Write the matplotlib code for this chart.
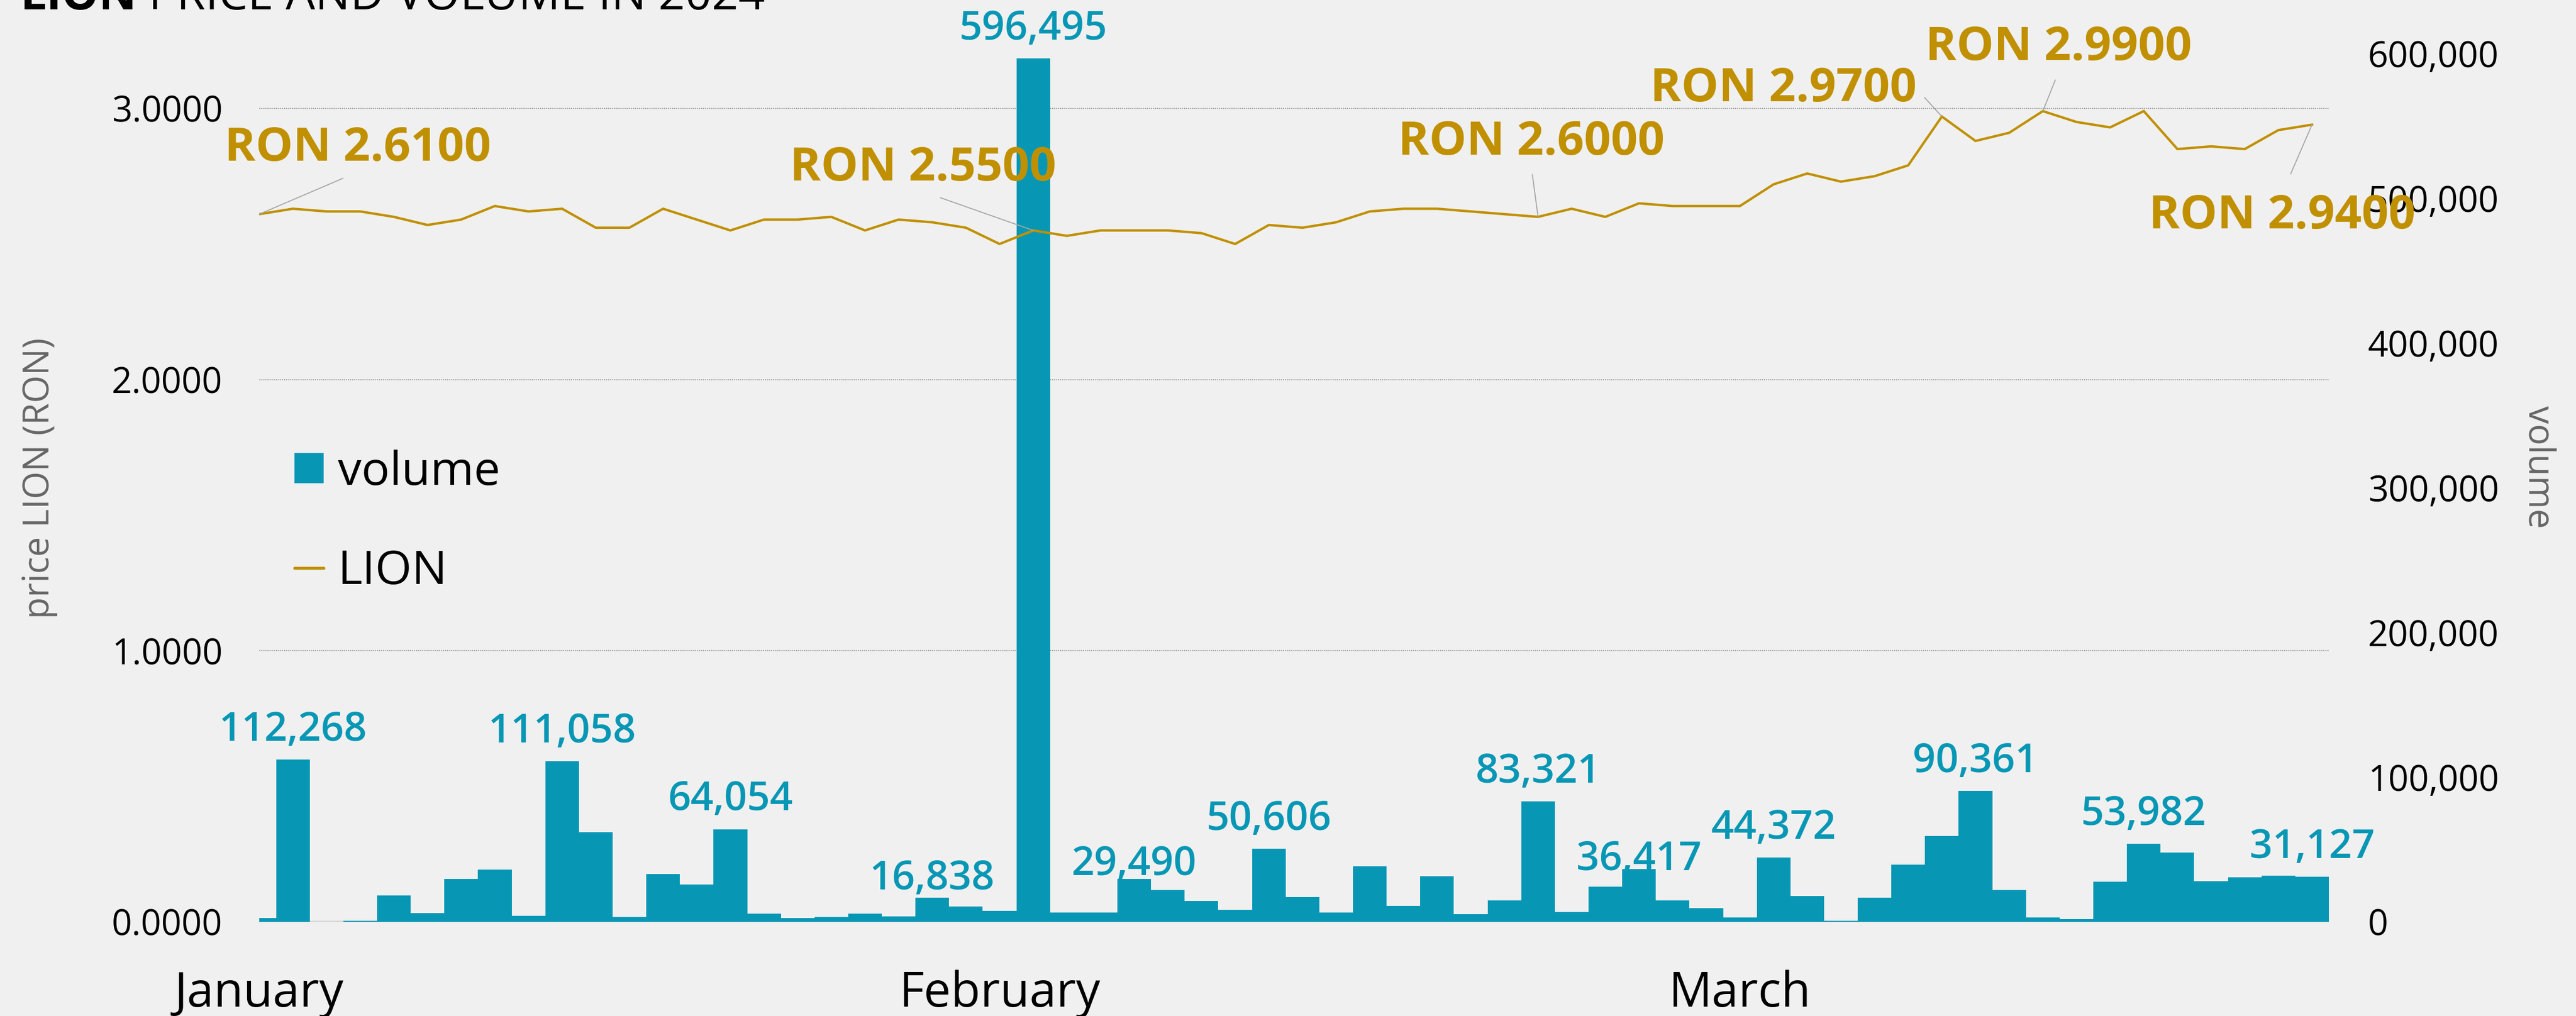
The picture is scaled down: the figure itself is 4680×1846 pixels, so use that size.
import numpy as np
import matplotlib
matplotlib.use("Agg")
import matplotlib.pyplot as plt
from matplotlib.patches import Patch
from matplotlib.lines import Line2D
from matplotlib.transforms import blended_transform_factory
from matplotlib.ticker import FuncFormatter, FixedLocator

# ---------------- data ----------------
months = ["January", "February", "March"]
month_start_idx = [0, 22, 44]

volume = [2500, 112268, 0, 900, 18100, 5900, 29700, 36000, 4000, 111058,
          62100, 3600, 33000, 25800, 64054, 5700, 2800, 3600, 5600, 3700,
          16838, 10800, 7650, 596495, 6400, 6400, 29490, 22000, 14500, 8200,
          50606, 17000, 6400, 38400, 11200, 31500, 5200, 15000, 83321, 6800,
          24200, 36417, 14700, 9400, 2900, 44372, 17850, 640, 16600, 39500,
          59400, 90361, 21900, 2900, 2000, 27900, 53982, 47900, 28300, 30900,
          32000, 31127]

price = [2.61, 2.63, 2.62, 2.62, 2.60, 2.57, 2.59, 2.64, 2.62, 2.63,
         2.56, 2.56, 2.63, 2.59, 2.55, 2.59, 2.59, 2.60, 2.55, 2.59,
         2.58, 2.56, 2.50, 2.55, 2.53, 2.55, 2.55, 2.55, 2.54, 2.50,
         2.57, 2.56, 2.58, 2.62, 2.63, 2.63, 2.62, 2.61, 2.60, 2.63,
         2.60, 2.65, 2.64, 2.64, 2.64, 2.72, 2.76, 2.73, 2.75, 2.79,
         2.97, 2.88, 2.91, 2.99, 2.95, 2.93, 2.99, 2.85, 2.86, 2.85,
         2.92, 2.94]

volume_label_idx = [1, 9, 14, 20, 23, 26, 30, 38, 41, 45, 51, 56, 61]
price_label_idx = [0, 23, 38, 50, 53, 61]

price_ticks = [0, 1, 2, 3]
volume_ticks = [0, 100000, 200000, 300000, 400000, 500000, 600000]

# ---------------- style ----------------
BG = "#F0F0F0"
TEAL = "#0797B5"
GOLD = "#C09000"
FONT = "Open Sans"
plt.rcParams["font.family"] = [FONT, "DejaVu Sans"]

W, H, DPI = 4680, 1846, 300
fig = plt.figure(figsize=(W / DPI, H / DPI), dpi=DPI, facecolor=BG)


def px_rect(l, t, r, b):
    return [l / W, 1 - b / H, (r - l) / W, (b - t) / H]


ax_vol = fig.add_axes(px_rect(471, 60, 4231, 1675))
ax_vol.set_facecolor(BG)
ax_price = ax_vol.twinx()
ax_price.set_zorder(ax_vol.get_zorder() + 1)
ax_price.patch.set_visible(False)

x = np.arange(len(volume))

# bars (volume, right axis)
ax_vol.bar(x, volume, width=1.0, color=TEAL, linewidth=0, zorder=2)
ax_vol.set_xlim(0, len(volume) - 0.5)
ax_vol.set_ylim(0, 614000)
ax_price.set_ylim(0, 3.278)

# gridlines from price ticks, drawn behind bars
gtrans = blended_transform_factory(ax_vol.transAxes, ax_price.transData)
for p in price_ticks[1:]:
    ax_vol.plot([0, 1], [p, p], transform=gtrans, color="#9a9a9a",
                lw=0.45, ls=(0, (1, 1)), zorder=1)
ax_vol.axhline(0, color="#d6d6d6", lw=1.3, zorder=1)

# price line
ax_price.plot(x, price, color=GOLD, lw=1.05, zorder=3, solid_joinstyle="miter")

# volume value labels (offset in points above bar top)
vol_label_offsets = {20: 3.6, 26: 1.7, 41: -0.5}
for i in volume_label_idx:
    ax_vol.annotate(f"{volume[i]:,}", xy=(i, volume[i]),
                    xytext=(0, vol_label_offsets.get(i, 8.2)),
                    textcoords="offset points", ha="center", va="baseline",
                    fontsize=17.5, fontweight="semibold", color=TEAL,
                    annotation_clip=False, zorder=4)

# price annotations
price_label_offsets = {0: (43, 28.5), 23: (-48, 27), 38: (-3, 32.5),
                       50: (-69, 12), 53: (7, 27.5), 61: (-13, -40)}
price_label_relpos = {0: (0.5, 0), 23: (0.5, 0), 38: (0.5, 0),
                      50: (1, 0.5), 53: (0.5, 0), 61: (0.5, 1)}
price_label_shrink = {61: 7}
for i in price_label_idx:
    ax_price.annotate(f"RON {price[i]:.4f}", xy=(i, price[i]),
                      xytext=price_label_offsets[i], textcoords="offset points",
                      ha="center", va="center", fontsize=20.5,
                      fontweight="bold", color=GOLD, annotation_clip=False,
                      zorder=5,
                      arrowprops=dict(arrowstyle="-", color="#a6a6a6", lw=0.45,
                                      shrinkA=price_label_shrink.get(i, 2),
                                      shrinkB=0, relpos=price_label_relpos[i]))

# axes styling
for a in (ax_vol, ax_price):
    for s in a.spines.values():
        s.set_visible(False)

ax_price.yaxis.tick_left()
ax_price.yaxis.set_major_locator(FixedLocator(price_ticks))
ax_price.yaxis.set_major_formatter(FuncFormatter(lambda v, p: f"{v:.4f}"))
ax_price.tick_params(axis="y", length=0, pad=16, labelsize=15.5, labelcolor="black")

ax_vol.yaxis.tick_right()
ax_vol.yaxis.set_major_locator(FixedLocator(volume_ticks))
ax_vol.yaxis.set_major_formatter(FuncFormatter(lambda v, p: f"{v:,.0f}"))
ax_vol.tick_params(axis="y", length=0, pad=17, labelsize=15.5, labelcolor="black")

ax_vol.set_xticks(month_start_idx)
ax_vol.set_xticklabels(months)
ax_vol.tick_params(axis="x", length=0, pad=21, labelsize=21, labelcolor="black")
ax_price.tick_params(axis="x", length=0, labelbottom=False)

# axis titles
fig.text(72 / W, 1 - 869 / H, "price LION (RON)", rotation=90, ha="center",
         va="center", fontsize=15.5, color="#666666")
fig.text(4612 / W, 1 - 848 / H, "volume", rotation=270, ha="center",
         va="center", fontsize=15.5, color="#666666")

# legend
handles = [Patch(facecolor=TEAL, edgecolor="none", label="volume"),
           Line2D([], [], color=GOLD, lw=1.3, solid_capstyle="round", label="LION")]
leg = ax_price.legend(handles=handles, loc="center left",
                      bbox_to_anchor=(535 / W, 1 - 949 / H),
                      bbox_transform=fig.transFigure, frameon=False,
                      fontsize=20.5, handlelength=0.62, handleheight=0.62,
                      handletextpad=0.3, labelspacing=1.13, borderpad=0,
                      borderaxespad=0)

# title (clipped at top like the reference)
t1 = fig.text(36 / W, 1 - 17 / H, "LION", fontsize=20.3, fontweight="bold",
              va="baseline", ha="left", color="black")
ax_price.annotate(" PRICE AND VOLUME IN 2024", xy=(1, 0), xycoords=t1,
                  va="bottom", ha="left", fontsize=20.3, color="black",
                  annotation_clip=False)

fig.savefig("out.png", dpi=DPI, facecolor=BG)
